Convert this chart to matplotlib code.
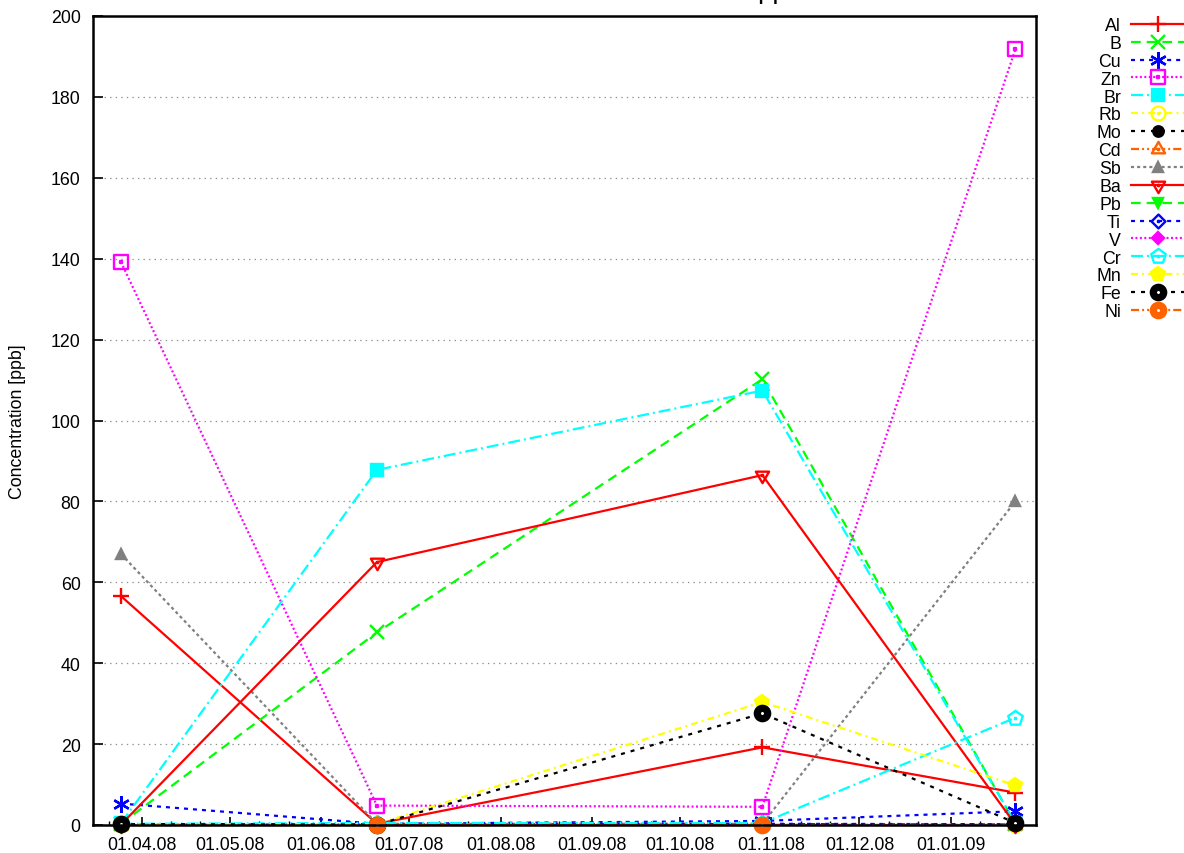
# concentration time series, gnuplot-like look
import datetime as dt
import numpy as np
import matplotlib
matplotlib.use("Agg")
import matplotlib.pyplot as plt
import matplotlib.dates as mdates
from matplotlib.path import Path

plt.rcParams["font.family"] = ["Liberation Sans", "DejaVu Sans"]
plt.rcParams["lines.scale_dashes"] = False

dates = [dt.datetime(2008, 3, 25), dt.datetime(2008, 6, 20),
         dt.datetime(2008, 10, 29), dt.datetime(2009, 1, 23)]

elements = ["Al", "B", "Cu", "Zn", "Br", "Rb", "Mo", "Cd", "Sb",
            "Ba", "Pb", "Ti", "V", "Cr", "Mn", "Fe", "Ni"]

Al = [56.6, 0.3, 19.2, 8.0]
B = [0.3, 47.6, 110.2, 0.3]
Cu = [5.3, 0.3, 1.0, 3.4]
Zn = [139.2, 4.8, 4.5, 191.8]
Br = [0.4, 87.8, 107.4, 0.4]
Rb = [0.1, 0.1, 0.2, 0.1]
Mo = [0.2, 0.1, 0.2, 0.1]
Cd = [0.1, 0.1, 0.1, 0.1]
Sb = [67.0, 0.3, 0.3, 80.0]
Ba = [0.1, 65.0, 86.5, 0.1]
Pb = [0.1, 0.1, 0.1, 0.1]
Ti = [0.1, 0.1, 0.3, 0.2]
V = [0.1, 0.1, 0.1, 0.1]
Cr = [0.3, 0.5, 0.5, 26.5]
Mn = [0.1, 0.2, 30.4, 9.8]
Fe = [0.2, 0.1, 27.6, 0.5]
Ni = [np.nan, 0.1, 0.1, np.nan]

values = [Al, B, Cu, Zn, Br, Rb, Mo, Cd, Sb, Ba, Pb, Ti, V, Cr, Mn, Fe, Ni]


def with_dot(verts):
    # open gnuplot marker: outline plus a tiny dot in the middle
    d = 0.08
    dot = [(-d, -d), (d, -d), (d, d), (-d, d), (-d, -d)]
    v = list(verts) + [verts[0]] + dot
    codes = ([Path.MOVETO] + [Path.LINETO] * (len(verts) - 1) + [Path.CLOSEPOLY]
             + [Path.MOVETO] + [Path.LINETO] * 3 + [Path.CLOSEPOLY])
    return Path(v, codes)


def poly(n, rot=0.0):
    a = np.deg2rad(rot) + np.arange(n) * 2 * np.pi / n
    return [(np.sin(t), np.cos(t)) for t in a]


sq = with_dot([(-1, -1), (1, -1), (1, 1), (-1, 1)])
circ = with_dot(poly(24))
tri_up = with_dot(poly(3))
tri_dn = with_dot(poly(3, 180))
diam = with_dot(poly(4))
pent = with_dot(poly(5))

colors = ["#ff0000", "#00ff00", "#0000ff", "#ff00ff", "#00ffff",
          "#ffff00", "#000000", "#ff6000", "#808080"] * 2
dashes = ["-", (0, (7, 4.3)), (0, (2.9, 3.6)), (0, (1.4, 1.8)),
          (0, (8.6, 2.9, 1.4, 2.9)), (0, (5, 3, 1.4, 3)), (0, (2.9, 4.3)),
          (0, (5.8, 2.2, 1.4, 2.2, 1.4, 2.2)), (0, (2.2, 2.2))] * 2
# marker, size, filled
markers = [("+", 11, True), ("x", 10, True), ((6, 2, 0), 12, True),
           (sq, 10, False), ("s", 9, True), (circ, 10, False),
           ("o", 7.5, True), (tri_up, 11, False), ("^", 7.5, True),
           (tri_dn, 11, False), ("v", 7.5, True), (diam, 10, False),
           ("D", 6.5, True), (pent, 11, False), ("p", 10, True),
           ("o", 7.5, "ring"), ("o", 7.5, "ring")]

fig = plt.figure(figsize=(11.84, 8.54), dpi=100)
ax = fig.add_axes([93 / 1184, 1 - 826 / 854, 943 / 1184, 809 / 854])

handles = []
for i, (name, vals) in enumerate(zip(elements, values)):
    m, ms, fill = markers[i]
    kw = dict(color=colors[i], linestyle=dashes[i], linewidth=1.6,
              marker=m, markersize=ms, markeredgewidth=1.7, label=name)
    if fill is False:
        kw["markerfacecolor"] = "none"
    elif fill == "ring":
        kw["markerfacecolor"] = "white"
        kw["markeredgewidth"] = 5.2
    line, = ax.plot(dates, vals, clip_on=False, **kw)
    handles.append(line)

ax.set_ylim(0, 200)
ax.set_xlim(dt.datetime(2008, 3, 15, 12), dt.datetime(2009, 1, 30))
ax.set_yticks(np.arange(0, 201, 20))
ax.yaxis.grid(True, linestyle=(0, (1, 3)), color="#909090", linewidth=0.9)
ax.set_axisbelow(True)

ax.xaxis.set_major_locator(mdates.MonthLocator())
ax.xaxis.set_major_formatter(mdates.DateFormatter("%d.%m.%y"))
ax.xaxis.set_minor_locator(mdates.DayLocator(bymonthday=[11, 21]))

ax.tick_params(axis="both", which="major", direction="in", labelsize=12.8,
               width=1.2)
ax.tick_params(axis="y", length=7, pad=9)
ax.tick_params(axis="x", which="major", length=6, pad=8)
ax.tick_params(axis="x", which="minor", direction="in", length=3, width=1)

for s in ax.spines.values():
    s.set_linewidth(1.8)

ax.set_ylabel("Concentration [ppb]", fontsize=12.8)
ax.yaxis.set_label_coords(-0.0715, 0.5)

# title sits mostly above the canvas, only descenders show
fig.text(757 / 1184, 1 + 1.5 / 854, "ppb", fontsize=20, ha="left",
         va="baseline")

fig.legend(handles, elements, loc="upper right",
           bbox_to_anchor=(1186 / 1184, 1 - 18 / 854), frameon=False,
           markerfirst=False, fontsize=12.8, handlelength=3.1,
           handletextpad=0.55, labelspacing=0.05, borderaxespad=0,
           borderpad=0)

fig.savefig("out.png", dpi=100)
